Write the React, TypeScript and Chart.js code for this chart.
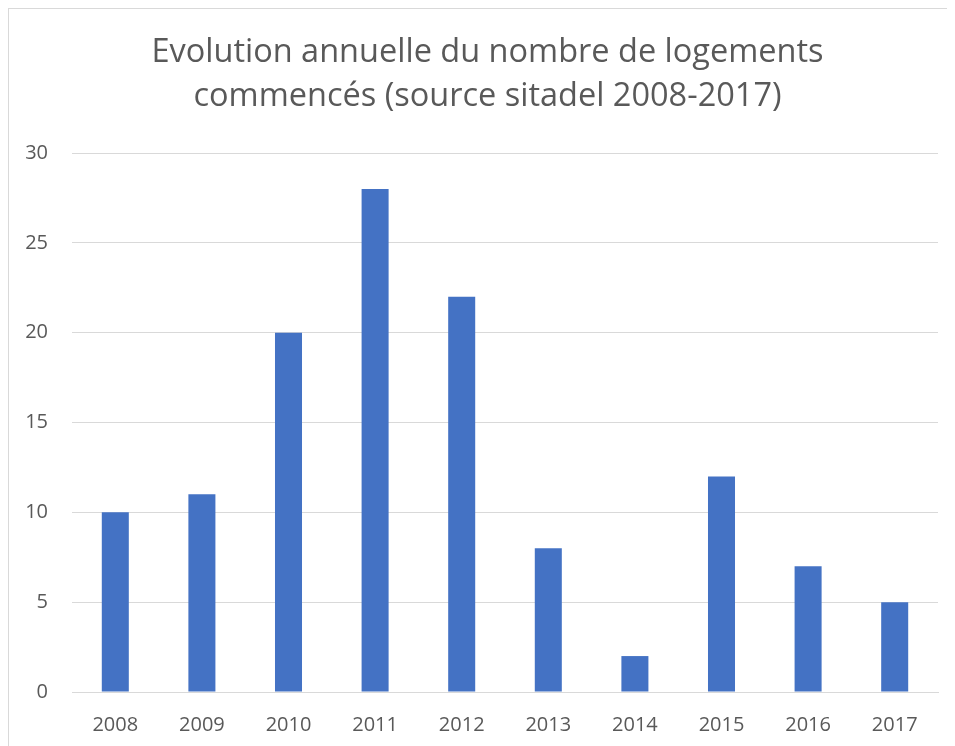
import React, { useEffect, useRef } from "react";
import { Chart, registerables } from "chart.js";

Chart.register(...registerables);

const categories = ["2008", "2009", "2010", "2011", "2012", "2013", "2014", "2015", "2016", "2017"];
const values = [10, 11, 20, 28, 22, 8, 2, 12, 7, 5];
const titleLines = ["Evolution annuelle du nombre de logements", "commencés (source sitadel 2008-2017)"];
const yMin = 0;
const yMax = 30;
const yStep = 5;

export default function App() {
  const ref = useRef<HTMLCanvasElement | null>(null);

  useEffect(() => {
    if (!ref.current) return;
    const font = "'Open Sans', 'DejaVu Sans', sans-serif";
    const chart = new Chart(ref.current, {
      type: "bar",
      data: {
        labels: categories,
        datasets: [
          {
            data: values,
            backgroundColor: "#4472c4",
            borderWidth: 0,
            categoryPercentage: 1,
            barPercentage: 0.312,
          },
        ],
      },
      options: {
        animation: false,
        responsive: false,
        maintainAspectRatio: false,
        layout: { padding: { left: 11, right: 0, top: 0, bottom: 0 } },
        plugins: {
          legend: { display: false },
          tooltip: { enabled: false },
          title: {
            display: true,
            text: titleLines,
            color: "#595959",
            font: { family: font, size: 32.5, weight: "normal", lineHeight: 44 / 32.5 },
            padding: { top: 22, bottom: 34 },
          },
        },
        scales: {
          x: {
            grid: { display: false, drawTicks: false },
            border: { display: true, color: "#d9d9d9", width: 1 },
            ticks: {
              color: "#595959",
              font: { family: font, size: 20 },
              padding: 21,
              maxRotation: 0,
            },
            afterFit: (s: any) => {
              s.height = 54;
            },
          },
          y: {
            min: yMin,
            max: yMax,
            grid: { color: "#d9d9d9", lineWidth: 1, drawTicks: false },
            border: { display: false },
            ticks: {
              stepSize: yStep,
              color: "#595959",
              font: { family: font, size: 20 },
              padding: 24,
            },
            afterFit: (s: any) => {
              s.width = 52;
            },
          },
          yRight: {
            position: "right",
            min: yMin,
            max: yMax,
            grid: { display: false, drawTicks: false },
            border: { display: false },
            ticks: { display: false },
            afterFit: (s: any) => {
              s.width = 17;
            },
          },
        },
      },
    });
    return () => chart.destroy();
  }, []);

  return (
    <div
      style={{
        width: 946,
        height: 737,
        borderTop: "1px solid #d9d9d9",
        borderLeft: "1px solid #d9d9d9",
        background: "#fff",
        overflow: "hidden",
      }}
    >
      <canvas ref={ref} width={946} height={737} style={{ display: "block" }} />
    </div>
  );
}
